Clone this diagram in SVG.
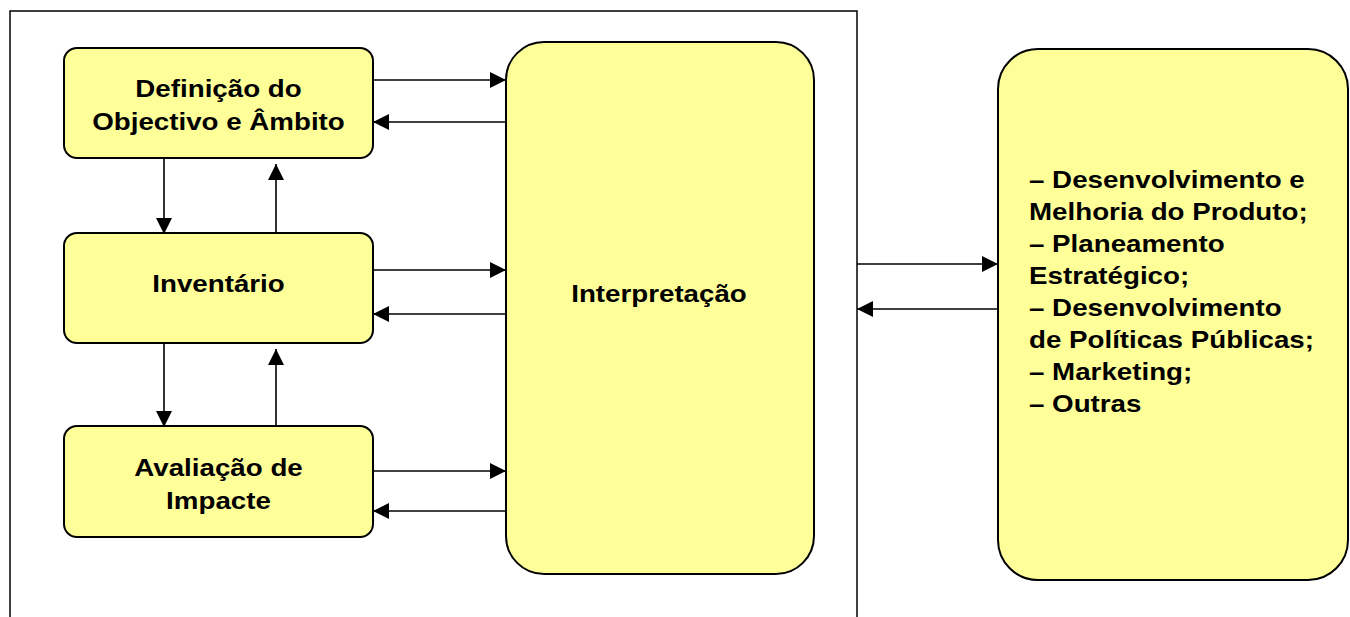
<svg xmlns="http://www.w3.org/2000/svg" width="1350" height="617" viewBox="0 0 1350 617">
<style>
.box{fill:#FFFF99;stroke:#000;stroke-width:2}
.frame{fill:none;stroke:#000;stroke-width:1.5}
.con{fill:none;stroke:#000;stroke-width:1.6;marker-end:url(#ah)}
.t{font-family:"Liberation Sans",Arial,sans-serif;font-weight:bold;font-size:23.5px;fill:#000}
.c{text-anchor:middle}
</style>
<defs>
<marker id="ah" markerUnits="userSpaceOnUse" markerWidth="18" markerHeight="18" refX="16" refY="8" orient="auto">
<path d="M0,0 L16,8 L0,16 z" fill="#000"/>
</marker>
</defs>
<rect class="frame" x="10" y="11" width="847" height="620"/>
<g id="connectors">
<line class="con" x1="373" y1="80" x2="506" y2="80"/>
<line class="con" x1="506" y1="122" x2="373" y2="122"/>
<line class="con" x1="373" y1="270" x2="506" y2="270"/>
<line class="con" x1="506" y1="314" x2="373" y2="314"/>
<line class="con" x1="373" y1="471" x2="506" y2="471"/>
<line class="con" x1="506" y1="511" x2="373" y2="511"/>
<line class="con" x1="164" y1="158" x2="164" y2="234"/>
<line class="con" x1="276" y1="245" x2="276" y2="164"/>
<line class="con" x1="164" y1="343" x2="164" y2="427"/>
<line class="con" x1="276" y1="426" x2="276" y2="349"/>
<line class="con" x1="857" y1="264" x2="998" y2="264"/>
<line class="con" x1="998" y1="309" x2="857" y2="309"/>
</g>
<g id="definicao">
<rect class="box" x="64" y="48" width="309" height="110" rx="13"/>
<text class="t c" transform="translate(218.5,97) scale(1.18,1)" x="0" y="0">Definição do</text>
<text class="t c" transform="translate(218.5,130) scale(1.18,1)" x="0" y="0">Objectivo e Âmbito</text>
</g>
<g id="inventario">
<rect class="box" x="64" y="233" width="309" height="110" rx="13"/>
<text class="t c" transform="translate(218.5,292) scale(1.18,1)" x="0" y="0">Inventário</text>
</g>
<g id="avaliacao">
<rect class="box" x="64" y="426" width="309" height="111" rx="13"/>
<text class="t c" transform="translate(218.5,476) scale(1.18,1)" x="0" y="0">Avaliação de</text>
<text class="t c" transform="translate(218.5,509) scale(1.18,1)" x="0" y="0">Impacte</text>
</g>
<g id="interpretacao">
<rect class="box" x="506" y="42" width="308" height="532" rx="38"/>
<text class="t c" transform="translate(659,302) scale(1.18,1)" x="0" y="0">Interpretação</text>
</g>
<g id="aplicacoes">
<rect class="box" x="998" y="49" width="350" height="531" rx="40"/>
<g class="t">
<text transform="translate(1029,188) scale(1.18,1)">– Desenvolvimento e</text>
<text transform="translate(1029,220) scale(1.18,1)">Melhoria do Produto;</text>
<text transform="translate(1029,252) scale(1.18,1)">– Planeamento</text>
<text transform="translate(1029,284) scale(1.18,1)">Estratégico;</text>
<text transform="translate(1029,316) scale(1.18,1)">– Desenvolvimento</text>
<text transform="translate(1029,348) scale(1.18,1)">de Políticas Públicas;</text>
<text transform="translate(1029,380) scale(1.18,1)">– Marketing;</text>
<text transform="translate(1029,412) scale(1.18,1)">– Outras</text>
</g>
</g>
</svg>
